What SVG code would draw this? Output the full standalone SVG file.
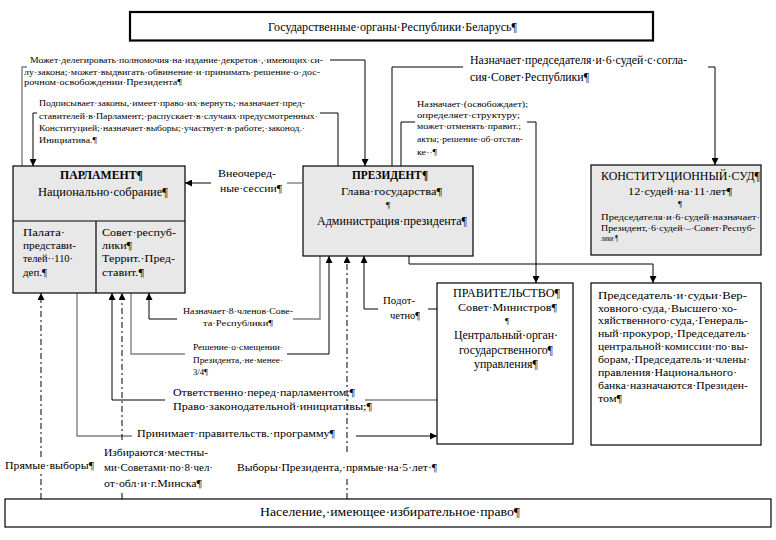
<svg xmlns="http://www.w3.org/2000/svg" width="776" height="540" viewBox="0 0 776 540">
<style>
text{font-family:"Liberation Serif","Times New Roman",serif;fill:#000}
.l{font-size:12px}
.m{font-size:11px}
.s{font-size:9px}
.p{font-size:9px}
.b{font-weight:bold}
.box{stroke:#000;stroke-width:1.2}
.g{fill:#e8e8e8}
.w{fill:#fff}
.c{fill:none;stroke:#000;stroke-width:1}
.cg{fill:none;stroke:#808080;stroke-width:1.4}
.d{fill:none;stroke:#000;stroke-width:1;stroke-dasharray:6,3,2,3}
</style>
<defs>
<marker id="a" viewBox="0 0 8 8" refX="8" refY="4" markerWidth="7" markerHeight="7" markerUnits="userSpaceOnUse" orient="auto">
<path d="M0,0 L8,4 L0,8 z" fill="#000"/>
</marker>
</defs>
<rect width="776" height="540" fill="#fff"/>

<g id="title">
<rect x="130" y="12" width="523" height="28.5" fill="#fff" stroke="#000" stroke-width="2.2"/>
<text class="l" x="268" y="31" textLength="249" lengthAdjust="spacingAndGlyphs">Государственные·органы·Республики·Беларусь¶</text>
</g>

<g id="connectors">
<polyline class="cg" points="22,166 22,67 27,67"/>
<polyline class="c" points="330,60 365,60 365,166" marker-end="url(#a)"/>
<polyline class="c" points="338,166 338,113 320,113"/>
<polyline class="c" points="37,113 33,113 33,166" marker-end="url(#a)"/>
<polyline class="c" points="392,166 392,67 463,67"/>
<polyline class="c" points="708,67 715,67 715,165" marker-end="url(#a)"/>
<polyline class="c" points="401,166 401,122 415,122"/>
<polyline class="c" points="527,122 536,122 536,283" marker-end="url(#a)"/>
<polyline class="cg" points="302,183 287,183"/>
<polyline class="c" points="211,183 185,183" marker-end="url(#a)"/>
<polyline class="c" points="409,256 409,264 653,264 653,283" marker-end="url(#a)"/>
<polyline class="cg" points="320,256 320,319 293,319"/>
<polyline class="c" points="177,319 149,319 149,293" marker-end="url(#a)"/>
<polyline class="cg" points="131,293 131,354 185,354"/>
<polyline class="c" points="287,354 329,354 329,256" marker-end="url(#a)"/>
<polyline class="c" points="437,309 428,309"/>
<polyline class="c" points="378,309 364,309 364,256" marker-end="url(#a)"/>
<polyline class="cg" points="437,400 365,400"/>
<polyline class="c" points="165,400 112,400 112,293" marker-end="url(#a)"/>
<polyline class="cg" points="77,293 77,436 132,436"/>
<polyline class="c" points="356,436 437,436" marker-end="url(#a)"/>
<polyline class="d" points="41,499 41,474"/>
<polyline class="d" points="41,457 41,293" marker-end="url(#a)"/>
<polyline class="d" points="122,499 122,492"/>
<polyline class="d" points="122,440 122,293" marker-end="url(#a)"/>
<polyline class="d" points="347,499 347,476"/>
<polyline class="d" points="347,452 347,256" marker-end="url(#a)"/>
</g>

<g id="labels">
<text class="s" x="30" y="63" textLength="293" lengthAdjust="spacingAndGlyphs">Может·делегировать·полномочия·на·издание·декретов·,·имеющих·си-</text>
<text class="s" x="24" y="75" textLength="296" lengthAdjust="spacingAndGlyphs">лу·закона;·может·выдвигать·обвинение·и·принимать·решение·о·дос-</text>
<text class="s" x="24" y="85" textLength="158" lengthAdjust="spacingAndGlyphs">рочном·освобождении·Президента¶</text>
<text class="s" x="39" y="106" textLength="266" lengthAdjust="spacingAndGlyphs">Подписывает·законы,·имеет·право·их·вернуть;·назначает·пред-</text>
<text class="s" x="39" y="119" textLength="279" lengthAdjust="spacingAndGlyphs">ставителей·в·Парламент;·распускает·в·случаях·предусмотренных·</text>
<text class="s" x="39" y="131" textLength="266" lengthAdjust="spacingAndGlyphs">Конституцией;·назначает·выборы;·участвует·в·работе;·законод.·</text>
<text class="s" x="39" y="143" textLength="58" lengthAdjust="spacingAndGlyphs">Инициатива.¶</text>
<text class="l" x="470" y="64" textLength="217" lengthAdjust="spacingAndGlyphs">Назначает·председателя·и·6·судей·с·согла-</text>
<text class="l" x="470" y="81" textLength="119" lengthAdjust="spacingAndGlyphs">сия·Совет·Республики¶</text>
<text class="s" x="417" y="107" textLength="111" lengthAdjust="spacingAndGlyphs">Назначает·(освобождает);</text>
<text class="s" x="417" y="118" textLength="103" lengthAdjust="spacingAndGlyphs">определяет·структуру;</text>
<text class="s" x="417" y="129" textLength="104" lengthAdjust="spacingAndGlyphs">может·отменять·правит.;</text>
<text class="s" x="417" y="142" textLength="106" lengthAdjust="spacingAndGlyphs">акты;·решение·об·отстав-</text>
<text class="s" x="417" y="155" textLength="20" lengthAdjust="spacingAndGlyphs">ке··¶</text>
<text class="m" x="218" y="177" textLength="58" lengthAdjust="spacingAndGlyphs">Внеочеред-</text>
<text class="m" x="220" y="192" textLength="62" lengthAdjust="spacingAndGlyphs">ные·сессии¶</text>
<text class="s" x="183" y="314" textLength="110" lengthAdjust="spacingAndGlyphs">Назначает·8·членов·Сове-</text>
<text class="s" x="203" y="326" textLength="70" lengthAdjust="spacingAndGlyphs">та·Республики¶</text>
<text class="s" x="193" y="350" textLength="90" lengthAdjust="spacingAndGlyphs">Решение·о·смещении·</text>
<text class="s" x="193" y="363" textLength="90" lengthAdjust="spacingAndGlyphs">Президента,·не·менее·</text>
<text class="s" x="193" y="375" textLength="15" lengthAdjust="spacingAndGlyphs">3/4¶</text>
<text class="m" x="173" y="396" textLength="182" lengthAdjust="spacingAndGlyphs">Ответственно·перед·парламентом;¶</text>
<text class="m" x="173" y="410" textLength="199" lengthAdjust="spacingAndGlyphs">Право·законодательной·инициативы;¶</text>
<text class="m" x="137" y="437" textLength="198" lengthAdjust="spacingAndGlyphs">Принимает·правительств.·программу¶</text>
<text class="m" x="383" y="304" textLength="32" lengthAdjust="spacingAndGlyphs">Подот-</text>
<text class="m" x="390" y="319" textLength="30" lengthAdjust="spacingAndGlyphs">четно¶</text>
<text class="m" x="5" y="469" textLength="89" lengthAdjust="spacingAndGlyphs">Прямые·выборы¶</text>
<text class="m" x="104" y="456" textLength="104" lengthAdjust="spacingAndGlyphs">Избираются·местны-</text>
<text class="m" x="104" y="471" textLength="109" lengthAdjust="spacingAndGlyphs">ми·Советами·по·8·чел·</text>
<text class="m" x="104" y="487" textLength="98" lengthAdjust="spacingAndGlyphs">от·обл·и·г.Минска¶</text>
<text class="m" x="237" y="471" textLength="200" lengthAdjust="spacingAndGlyphs">Выборы·Президента,·прямые·на·5·лет·¶</text>
</g>

<g id="parliament">
<rect class="box g" x="13" y="166" width="172" height="127"/>
<line x1="13" y1="221" x2="185" y2="221" stroke="#000" stroke-width="1.2"/>
<line x1="96" y1="221" x2="96" y2="293" stroke="#000" stroke-width="1.2"/>
<text class="l b" x="60" y="179" textLength="83" lengthAdjust="spacingAndGlyphs">ПАРЛАМЕНТ¶</text>
<text class="l" x="38" y="196" textLength="130" lengthAdjust="spacingAndGlyphs">Национально·собрание¶</text>
<text class="m" x="23" y="236" textLength="42" lengthAdjust="spacingAndGlyphs">Палата·</text>
<text class="m" x="23" y="249" textLength="53" lengthAdjust="spacingAndGlyphs">представи-</text>
<text class="m" x="23" y="262" textLength="50" lengthAdjust="spacingAndGlyphs">телей··110·</text>
<text class="m" x="23" y="276" textLength="24" lengthAdjust="spacingAndGlyphs">деп.¶</text>
<text class="m" x="102" y="236" textLength="74" lengthAdjust="spacingAndGlyphs">Совет·респуб-</text>
<text class="m" x="102" y="249" textLength="30" lengthAdjust="spacingAndGlyphs">лики¶</text>
<text class="m" x="102" y="262" textLength="73" lengthAdjust="spacingAndGlyphs">Террит.·Пред-</text>
<text class="m" x="102" y="276" textLength="42" lengthAdjust="spacingAndGlyphs">ставит.¶</text>
</g>

<g id="president">
<rect class="box g" x="303" y="166" width="170" height="90"/>
<text class="l b" x="352" y="179" textLength="76" lengthAdjust="spacingAndGlyphs">ПРЕЗИДЕНТ¶</text>
<text class="m" x="341" y="195" textLength="101" lengthAdjust="spacingAndGlyphs">Глава·государства¶</text>
<text class="p" x="388" y="208" text-anchor="middle">¶</text>
<text class="l" x="317" y="225" textLength="150" lengthAdjust="spacingAndGlyphs">Администрация·президента¶</text>
</g>

<g id="court">
<rect class="box g" x="591" y="165" width="170" height="90"/>
<text class="l" x="601" y="180" textLength="159" lengthAdjust="spacingAndGlyphs">КОНСТИТУЦИОННЫЙ·СУД¶</text>
<text class="m" x="628" y="195" textLength="104" lengthAdjust="spacingAndGlyphs">12·судей·на·11·лет¶</text>
<text class="p" x="680" y="207" text-anchor="middle">¶</text>
<text class="s" x="601" y="220" textLength="159" lengthAdjust="spacingAndGlyphs">Председателя·и·6·судей·назначает·</text>
<text class="s" x="601" y="231" textLength="154" lengthAdjust="spacingAndGlyphs">Президент,·6·судей·–·Совет·Респуб-</text>
<text class="s" x="601" y="241" textLength="17" lengthAdjust="spacingAndGlyphs">лики·¶</text>
</g>

<g id="government">
<rect class="box w" x="437" y="283" width="136" height="161"/>
<text class="l" x="453" y="297" textLength="107" lengthAdjust="spacingAndGlyphs">ПРАВИТЕЛЬСТВО¶</text>
<text class="m" x="458" y="311" textLength="99" lengthAdjust="spacingAndGlyphs">Совет·Министров¶</text>
<text class="p" x="507" y="324" text-anchor="middle">¶</text>
<text class="l" x="454" y="339" textLength="104" lengthAdjust="spacingAndGlyphs">Центральный·орган·</text>
<text class="l" x="459" y="354" textLength="94" lengthAdjust="spacingAndGlyphs">государственного¶</text>
<text class="l" x="474" y="368" textLength="64" lengthAdjust="spacingAndGlyphs">управления¶</text>
</g>

<g id="appointments">
<rect class="box w" x="591" y="283" width="170" height="162"/>
<text class="m" x="598" y="299" textLength="149" lengthAdjust="spacingAndGlyphs">Председатель·и·судьи·Вер-</text>
<text class="m" x="598" y="311.5" textLength="139" lengthAdjust="spacingAndGlyphs">ховного·суда,·Высшего·хо-</text>
<text class="m" x="598" y="324" textLength="150" lengthAdjust="spacingAndGlyphs">хяйственного·суда,·Генераль-</text>
<text class="m" x="598" y="337" textLength="152" lengthAdjust="spacingAndGlyphs">ный·прокурор,·Председатель·</text>
<text class="m" x="598" y="350" textLength="150" lengthAdjust="spacingAndGlyphs">центральной·комиссии·по·вы-</text>
<text class="m" x="598" y="363" textLength="152" lengthAdjust="spacingAndGlyphs">борам,·Председатель·и·члены·</text>
<text class="m" x="598" y="376" textLength="139" lengthAdjust="spacingAndGlyphs">правления·Национального·</text>
<text class="m" x="598" y="389" textLength="150" lengthAdjust="spacingAndGlyphs">банка·назначаются·Президен-</text>
<text class="m" x="598" y="402" textLength="24" lengthAdjust="spacingAndGlyphs">том¶</text>
</g>

<g id="population">
<rect class="box w" x="5" y="499" width="766" height="28"/>
<text class="l" x="260" y="516" textLength="260" lengthAdjust="spacingAndGlyphs">Население,·имеющее·избирательное·право¶</text>
</g>
</svg>
